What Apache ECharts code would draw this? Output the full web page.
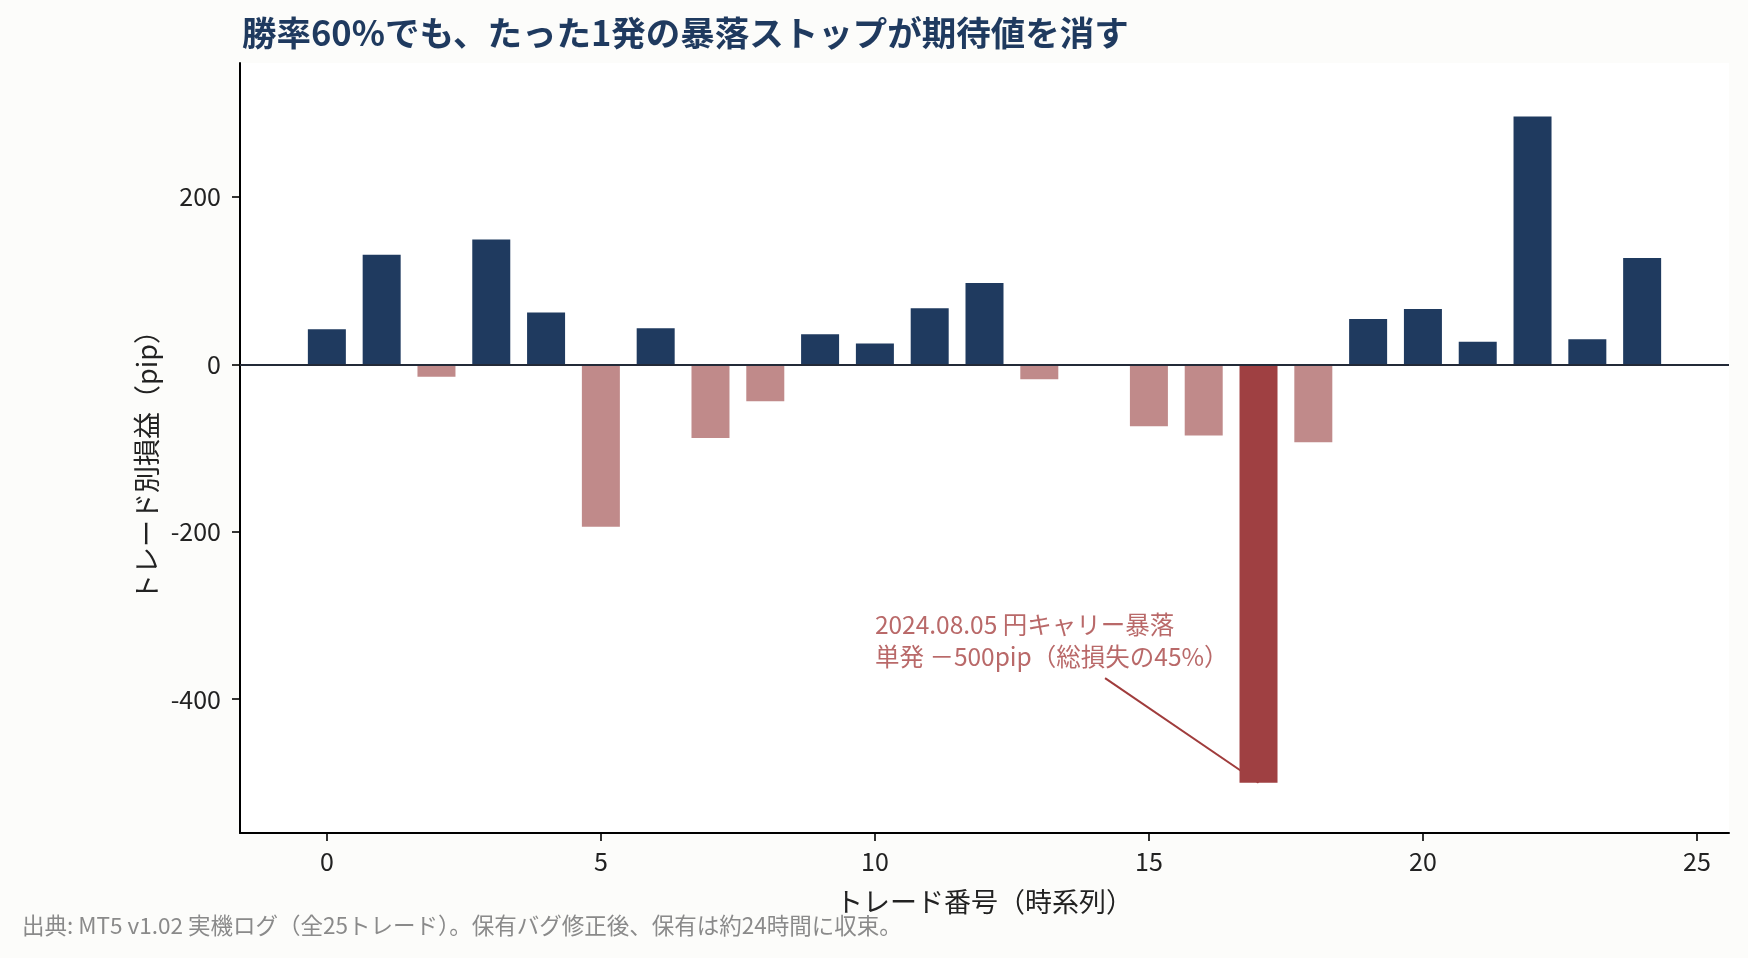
<!DOCTYPE html>
<html>
<head>
<meta charset="utf-8">
<script src="https://cdn.jsdelivr.net/npm/echarts@6/dist/echarts.min.js"></script>
<style>
    html, body { margin: 0; padding: 0; background: #fcfcfa; }
    #chart { width: 1748px; height: 958px; }
</style>
</head>
<body>
<div id="chart"></div>
<script>
// トレード番号と損益 (pip)
const tradeNo = [0, 1, 2, 3, 4, 5, 6, 7, 8, 9, 10, 11, 12, 13, 14, 15, 16, 17, 18, 19, 20, 21, 22, 23, 24];
const pips = [42, 131, -15, 149, 62, -194, 43, -88, -44, 36, 25, 67, 97, -18, 0, -74, -85, -500, -93, 54, 66, 27, 296, 30, 127];
const crashIndex = 17;
const xTicks = [0, 5, 10, 15, 20, 25];
const yTicks = [-400, -200, 0, 200];

const annotText = '2024.08.05 円キャリー暴落\n単発 －500pip（総損失の45%）';
const annotAt = [10, -330];        // テキスト位置
const annotLine = [[14.2, -375], [17, -500]];

const navy = '#1f3a5f', lossLight = '#c08a8a', lossDark = '#9f4042';
const font = '"Noto Sans CJK JP", "Noto Sans", sans-serif';

let chart = echarts.init(document.getElementById('chart'));

let option = {
    backgroundColor: '#fcfcfa',
    textStyle: { fontFamily: font },
    title: {
        text: '勝率60%でも、たった1発の暴落ストップが期待値を消す',
        left: 237,
        top: 11,
        textStyle: { fontSize: 34.5, fontWeight: 'bold', color: navy, fontFamily: font }
    },
    grid: {
        left: 240, right: 19, top: 63, bottom: 125,
        show: true, backgroundColor: '#ffffff', borderWidth: 0
    },
    xAxis: {
        type: 'value',
        min: -1.585,
        max: 25.585,
        name: 'トレード番号（時系列）',
        nameLocation: 'middle',
        nameGap: 55,
        nameTextStyle: { fontSize: 27, color: '#222', fontFamily: font },
        axisLine: { show: true, onZero: false, lineStyle: { color: '#000', width: 2 } },
        axisTick: { show: true, length: 8, lineStyle: { color: '#000', width: 1.6 }, customValues: xTicks },
        axisLabel: { fontSize: 25, color: '#222', margin: 16, fontFamily: font, customValues: xTicks },
        splitLine: { show: false }
    },
    yAxis: {
        type: 'value',
        min: -560,
        max: 360,
        name: 'トレード別損益（pip）',
        nameLocation: 'middle',
        nameRotate: 90,
        nameGap: 80,
        nameTextStyle: { fontSize: 27, color: '#222', fontFamily: font, padding: [0, 22, 0, 0] },
        axisLine: { show: true, onZero: false, lineStyle: { color: '#000', width: 2 } },
        axisTick: { show: true, length: 8, lineStyle: { color: '#000', width: 1.6 }, customValues: yTicks },
        axisLabel: { fontSize: 25, color: '#222', margin: 19, fontFamily: font, customValues: yTicks },
        splitLine: { show: false }
    },
    graphic: [{
        type: 'text',
        left: 22,
        top: 914,
        style: {
            text: '出典: MT5 v1.02 実機ログ（全25トレード）。保有バグ修正後、保有は約24時間に収束。',
            fontSize: 22.5, fill: '#8a8a8a', fontFamily: font
        }
    }],
    series: [
        {
            // 注釈の引き出し線（棒の下に描く）
            type: 'line',
            z: 1,
            data: annotLine,
            showSymbol: false,
            symbol: 'none',
            silent: true,
            lineStyle: { color: '#a03c3c', width: 2 }
        },
        {
            type: 'bar',
            z: 3,
            barWidth: 38,
            data: tradeNo.map((x, i) => [x, pips[i]]),
            itemStyle: {
                color: p => p.dataIndex === crashIndex ? lossDark : (p.value[1] >= 0 ? navy : lossLight)
            },
            markLine: {
                silent: true,
                symbol: ['none', 'none'],
                label: { show: false },
                lineStyle: { color: '#232a38', width: 2.2, type: 'solid' },
                data: [{ yAxis: 0 }]
            }
        },
        {
            type: 'scatter',
            z: 4,
            symbolSize: 0,
            silent: true,
            data: [annotAt],
            label: {
                show: true,
                position: 'right',
                distance: 0,
                formatter: annotText,
                fontSize: 24.5,
                lineHeight: 32,
                color: '#a84444',
                fontFamily: font
            }
        }
    ]
};

chart.setOption(option);
</script>
</body>
</html>
